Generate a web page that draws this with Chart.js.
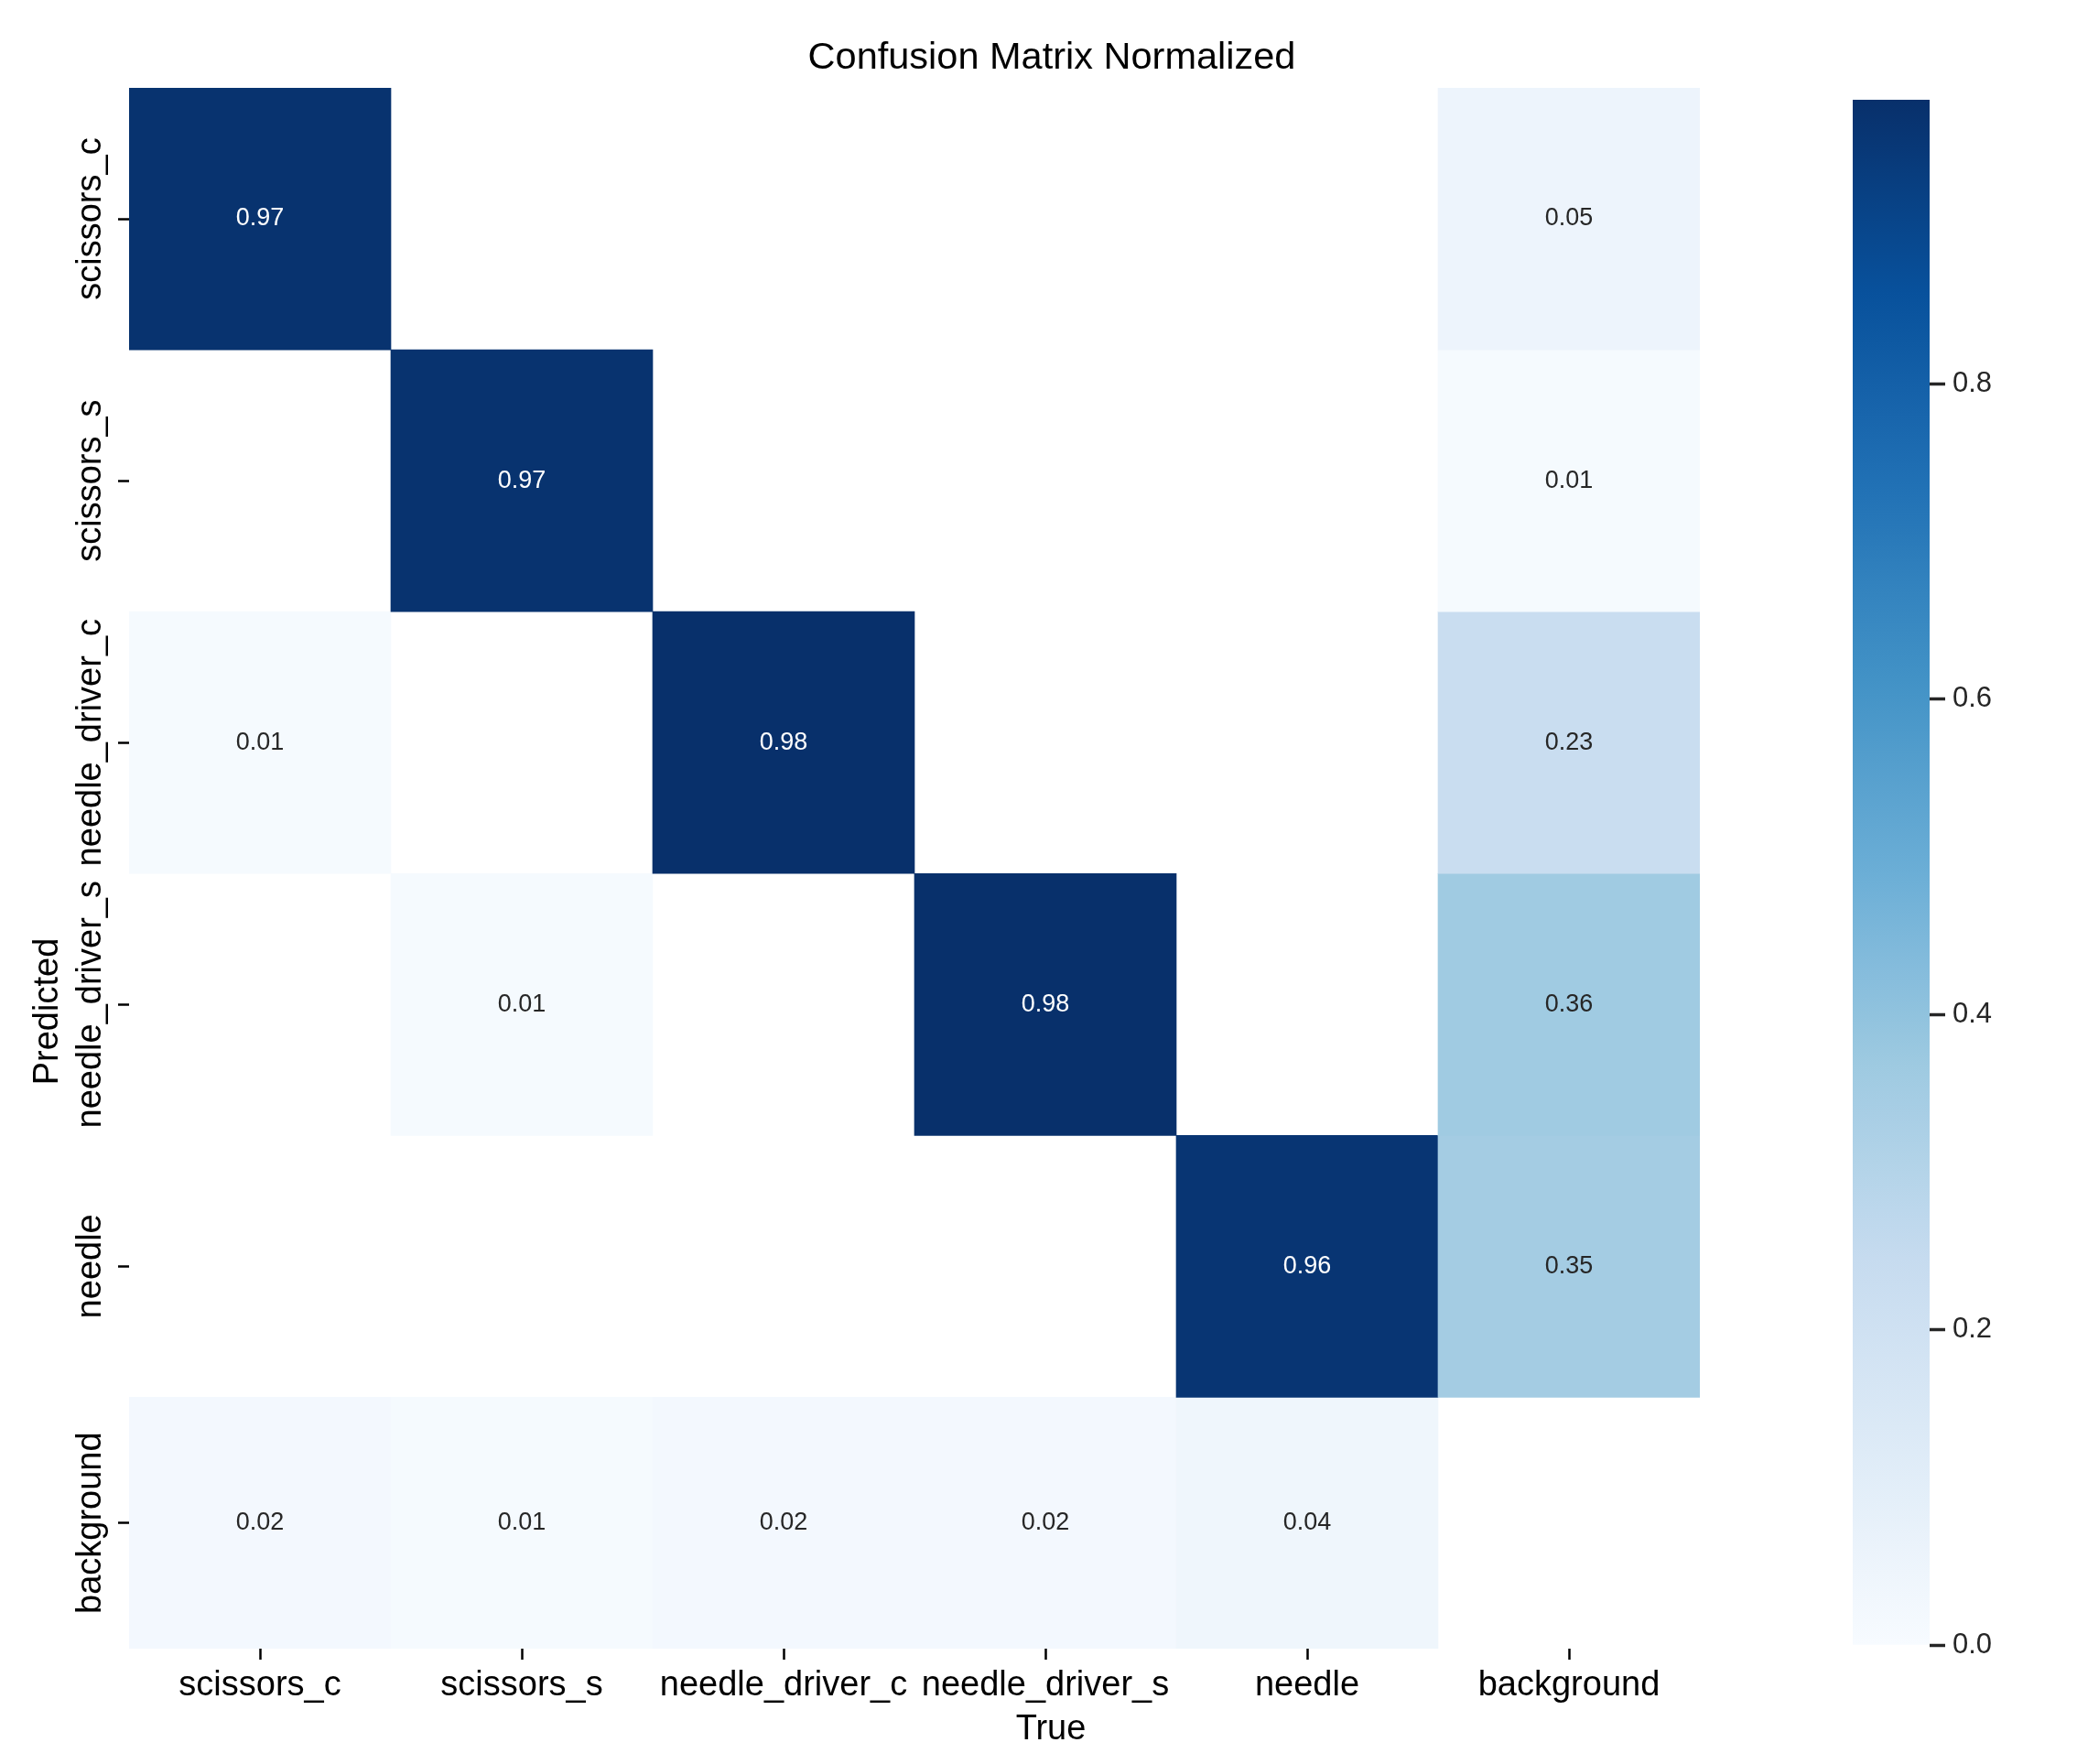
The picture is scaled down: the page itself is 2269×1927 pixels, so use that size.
<!DOCTYPE html>
<html><head><meta charset="utf-8">
<script src="https://cdn.jsdelivr.net/npm/chart.js@4/dist/chart.umd.min.js"></script>
<style>
html,body{margin:0;padding:0;background:#fff;}
#wrap{position:relative;width:2269px;height:1927px;overflow:hidden;background:#fff}
#main{position:absolute;left:0;top:0;width:1990px;height:1927px}
#cbar{position:absolute;left:1990px;top:0;width:279px;height:1927px}
</style></head><body>
<div id="wrap"><canvas id="main" width="1990" height="1927"></canvas><canvas id="cbar" width="279" height="1927"></canvas></div>
<script>
// ---- data ----
const classes = ['scissors_c', 'scissors_s', 'needle_driver_c', 'needle_driver_s', 'needle', 'background'];
// rows = Predicted, columns = True (null = blank cell)
const predScissorsC     = [0.97, null, null, null, null, 0.05];
const predScissorsS     = [null, 0.97, null, null, null, 0.01];
const predNeedleDriverC = [0.01, null, 0.98, null, null, 0.23];
const predNeedleDriverS = [null, 0.01, null, 0.98, null, 0.36];
const predNeedle        = [null, null, null, null, 0.96, 0.35];
const predBackground    = [0.02, 0.01, 0.02, 0.02, 0.04, null];
const matrixRows = [predScissorsC, predScissorsS, predNeedleDriverC, predNeedleDriverS, predNeedle, predBackground];
const colorbarTicks = [0, 0.2, 0.4, 0.6, 0.8];
const titleText = 'Confusion Matrix Normalized';
const xTitle = 'True';
const yTitle = 'Predicted';
// visible y range (the last row is slightly cut off in the original)
const yVisibleMax = 5.96;

// ---- colormap (matplotlib Blues) ----
const BLUES = [[247,251,255],[222,235,247],[198,219,239],[158,202,225],[107,174,214],[66,146,198],[33,113,181],[8,81,156],[8,48,107]];
function blues(t){
  t = Math.max(0, Math.min(1, t));
  const p = t * 8; const i = Math.min(7, Math.floor(p)); const f = p - i;
  const a = BLUES[i], b = BLUES[i+1];
  return [0,1,2].map(k => Math.round(a[k] + (b[k]-a[k]) * f));
}
const rgb = c => `rgb(${c[0]},${c[1]},${c[2]})`;
function lum(c){
  const l = c.map(v => { v /= 255; return v <= 0.03928 ? v/12.92 : Math.pow((v+0.055)/1.055, 2.4); });
  return 0.2126*l[0] + 0.7152*l[1] + 0.0722*l[2];
}
const allVals = matrixRows.flat().filter(v => v != null);
const vmin = 0;
const vmax = Math.max(...allVals);
const rowCenter = i => (i + Math.min(i + 1, yVisibleMax)) / 2;

const FONT = "'Liberation Sans', Arial, Helvetica, sans-serif";
Chart.defaults.font.family = FONT;

const datasets = matrixRows.map((row, i) => ({
  label: classes[i],
  data: row.map(v => v == null ? null : [i, Math.min(i + 1, yVisibleMax)]),
  backgroundColor: row.map(v => v == null ? 'rgba(0,0,0,0)' : rgb(blues((v - vmin) / (vmax - vmin)))),
  borderWidth: 0,
  borderSkipped: false,
  grouped: false,
  barPercentage: 1,
  categoryPercentage: 1
}));

const textPlugin = {
  id: 'textPlugin',
  afterDatasetsDraw(chart){
    const ctx = chart.ctx, xs = chart.scales.x, ys = chart.scales.y;
    ctx.save();
    ctx.font = `27px ${FONT}`;
    ctx.textAlign = 'center';
    ctx.textBaseline = 'middle';
    matrixRows.forEach((row, i) => row.forEach((v, j) => {
      if (v == null) return;
      const c = blues((v - vmin) / (vmax - vmin));
      ctx.fillStyle = lum(c) > 0.408 ? '#262626' : '#ffffff';
      ctx.fillText(v.toFixed(2), xs.getPixelForValue(j), ys.getPixelForValue(rowCenter(i)));
    }));
    // rotated y tick labels
    ctx.fillStyle = '#000';
    ctx.font = `38px ${FONT}`;
    ctx.textBaseline = 'alphabetic';
    classes.forEach((lab, i) => {
      ctx.save();
      ctx.translate(110, ys.getPixelForValue(rowCenter(i)));
      ctx.rotate(-Math.PI / 2);
      ctx.fillText(lab, 0, 0);
      ctx.restore();
    });
    // axis titles
    ctx.save();
    ctx.translate(63, 1105);
    ctx.rotate(-Math.PI / 2);
    ctx.fillText(yTitle, 0, 0);
    ctx.restore();
    ctx.fillText(xTitle, 1148, 1900);
    ctx.font = `41.5px ${FONT}`;
    ctx.fillText(titleText, 1149, 75);
    ctx.restore();
  }
};

new Chart(document.getElementById('main'), {
  type: 'bar',
  data: { labels: classes, datasets },
  options: {
    responsive: false, animation: false, devicePixelRatio: 1,
    layout: { padding: { top: 96, left: 0, right: 133, bottom: 0 } },
    plugins: { legend: { display: false }, tooltip: { enabled: false }, title: { display: false } },
    scales: {
      x: {
        type: 'category', offset: true,
        grid: { offset: false, drawOnChartArea: false, drawTicks: true, tickLength: 12, tickWidth: 2.5, tickColor: '#000' },
        border: { display: false },
        ticks: { font: { size: 38 }, color: '#000', padding: 6, maxRotation: 0, minRotation: 0, autoSkip: false },
        afterFit: s => { s.height = 126; }
      },
      y: {
        type: 'linear', min: 0, max: yVisibleMax, reverse: true,
        afterBuildTicks: s => { s.ticks = classes.map((_, i) => ({ value: rowCenter(i) })); },
        grid: { drawOnChartArea: false, drawTicks: true, tickLength: 12, tickWidth: 2.5, tickColor: '#000' },
        border: { display: false },
        ticks: { display: false },
        afterFit: s => { s.width = 141; }
      }
    }
  },
  plugins: [textPlugin]
});

// ---- colorbar ----
function cbGradient(c){
  const chart = c.chart;
  if (!chart.chartArea) return 'rgba(0,0,0,0)';
  const ys = chart.scales.y;
  const g = chart.ctx.createLinearGradient(0, ys.getPixelForValue(vmin), 0, ys.getPixelForValue(vmax));
  for (let k = 0; k <= 32; k++) g.addColorStop(k / 32, rgb(blues(k / 32)));
  return g;
}
new Chart(document.getElementById('cbar'), {
  type: 'bar',
  data: { labels: ['colorbar'], datasets: [{ data: [[vmin, vmax]], backgroundColor: cbGradient, borderWidth: 0, borderSkipped: false, barPercentage: 1, categoryPercentage: 1 }] },
  options: {
    responsive: false, animation: false, devicePixelRatio: 1,
    layout: { padding: { left: 34, top: 109, bottom: 130, right: 0 } },
    plugins: { legend: { display: false }, tooltip: { enabled: false } },
    scales: {
      x: { display: false },
      y: {
        position: 'right', min: vmin, max: vmax,
        afterBuildTicks: s => { s.ticks = colorbarTicks.map(v => ({ value: v })); },
        ticks: { callback: v => Number(v).toFixed(1), font: { size: 31 }, color: '#262626', padding: 8 },
        grid: { drawOnChartArea: false, drawTicks: true, tickLength: 17, tickWidth: 3.5, tickColor: '#262626' },
        border: { display: false },
        afterFit: s => { s.width = 161; }
      }
    }
  }
});
</script>
</body></html>
